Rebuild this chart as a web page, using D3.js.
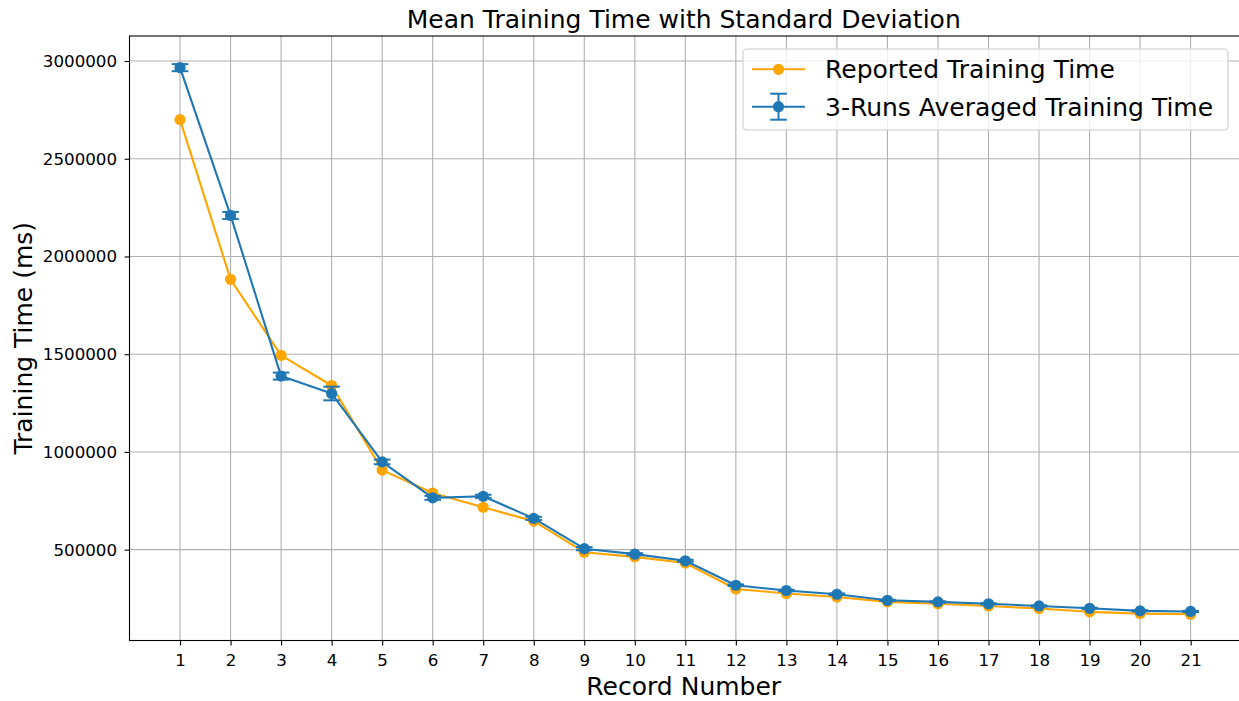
<!DOCTYPE html>
<html>
<head>
<meta charset="utf-8">
<script src="https://cdn.jsdelivr.net/npm/d3@7"></script>
<style>
  html, body { margin: 0; padding: 0; background: #fff; }
  svg { display: block; font-family: "DejaVu Sans", sans-serif; }
</style>
</head>
<body>
<svg id="chart" width="1239" height="701"></svg>
<script>
// ---- Data ----
const records = [1,2,3,4,5,6,7,8,9,10,11,12,13,14,15,16,17,18,19,20,21];
const reportedTime = [2700000, 1883000, 1494000, 1340000, 907000, 790000, 717000, 646000, 487000, 463000, 432000, 299000, 276000, 258000, 233000, 223000, 212000, 199000, 182000, 173000, 170000];
const averagedTime = [2966000, 2210000, 1388000, 1299000, 949000, 765000, 773000, 660000, 505000, 477000, 443000, 318000, 291000, 272000, 241000, 233000, 223000, 212000, 200000, 187000, 184000];
const stdDev = [18000, 18000, 18000, 35000, 12000, 10000, 8000, 8000, 8000, 5000, 5000, 4000, 4000, 4000, 3000, 3000, 3000, 3000, 3000, 3000, 3000];
const yTicks = [500000, 1000000, 1500000, 2000000, 2500000, 3000000];
const seriesNames = ["Reported Training Time", "3-Runs Averaged Training Time"];
const titleText = "Mean Training Time with Standard Deviation";
const xLabel = "Record Number";
const yLabel = "Training Time (ms)";

(function () {
// ---- Layout ----
const pL = 129.5, pT = 36, pB = 640.5;
const unit = 50.53;
const pR = pL + 22 * unit;
const orange = "#FFA500", blue = "#1f77b4";
const bigFont = "25px", tickFont = "16.7px";

const svg = d3.select("#chart");
const x = d3.scaleLinear().domain([0, 22]).range([pL, pR]);
const y = d3.scaleLinear().domain([35300, 3128000]).range([pB, pT]);

// grid
const grid = svg.append("g");
grid.selectAll(".vg").data(records).enter().append("line")
  .attr("x1", d => x(d)).attr("x2", d => x(d)).attr("y1", pT).attr("y2", pB)
  .attr("stroke", "#b0b0b0").attr("stroke-width", 1.1);
grid.selectAll(".hg").data(yTicks).enter().append("line")
  .attr("x1", pL).attr("x2", pR).attr("y1", d => y(d)).attr("y2", d => y(d))
  .attr("stroke", "#b0b0b0").attr("stroke-width", 1.1);

// axes
const xAxis = d3.axisBottom(x).tickValues(records).tickFormat(d3.format("d")).tickSize(4.9).tickPadding(8.5);
const yAxis = d3.axisLeft(y).tickValues(yTicks).tickFormat(d3.format("d")).tickSize(4.9).tickPadding(7.5);
const gx = svg.append("g").attr("transform", `translate(0,${pB})`).call(xAxis);
const gy = svg.append("g").attr("transform", `translate(${pL},0)`).call(yAxis);
[gx, gy].forEach(g => {
  g.attr("font-family", null).attr("font-size", null);
  g.select(".domain").remove();
  g.selectAll(".tick line").attr("stroke", "#000").attr("stroke-width", 1.1);
  g.selectAll(".tick text").attr("fill", "#000").style("font-size", tickFont).style("font-family", "DejaVu Sans");
});

// frame
svg.append("rect").attr("x", pL).attr("y", pT).attr("width", pR - pL).attr("height", pB - pT)
  .attr("fill", "none").attr("stroke", "#000").attr("stroke-width", 1.1);

// orange series
const line = d3.line().x((d, i) => x(records[i])).y(d => y(d));
svg.append("path").datum(reportedTime).attr("d", line)
  .attr("fill", "none").attr("stroke", orange).attr("stroke-width", 2.1).attr("stroke-linejoin", "round");
svg.append("g").selectAll("circle").data(reportedTime).enter().append("circle")
  .attr("cx", (d, i) => x(records[i])).attr("cy", d => y(d)).attr("r", 5.6).attr("fill", orange);

// blue error bars
const eb = svg.append("g").attr("stroke", blue).attr("stroke-width", 2);
const cap = 8.3;
averagedTime.forEach((v, i) => {
  const cx = x(records[i]);
  const y1 = y(v - stdDev[i]), y2 = y(v + stdDev[i]);
  eb.append("line").attr("x1", cx).attr("x2", cx).attr("y1", y1).attr("y2", y2);
  eb.append("line").attr("x1", cx - cap).attr("x2", cx + cap).attr("y1", y1).attr("y2", y1);
  eb.append("line").attr("x1", cx - cap).attr("x2", cx + cap).attr("y1", y2).attr("y2", y2);
});
svg.append("path").datum(averagedTime).attr("d", line)
  .attr("fill", "none").attr("stroke", blue).attr("stroke-width", 2.1).attr("stroke-linejoin", "round");
svg.append("g").selectAll("circle").data(averagedTime).enter().append("circle")
  .attr("cx", (d, i) => x(records[i])).attr("cy", d => y(d)).attr("r", 5.6).attr("fill", blue);

// title & labels
const cxMid = (pL + 1238) / 2;
svg.append("text").attr("x", cxMid).attr("y", 27.7).attr("text-anchor", "middle")
  .style("font-size", bigFont).text(titleText);
svg.append("text").attr("x", cxMid).attr("y", 695).attr("text-anchor", "middle")
  .style("font-size", bigFont).text(xLabel);
svg.append("text").attr("transform", `translate(31.5,${(pT + pB) / 2}) rotate(-90)`).attr("text-anchor", "middle")
  .style("font-size", bigFont).text(yLabel);

// legend
const lg = svg.append("g");
lg.append("rect").attr("x", 743).attr("y", 49).attr("width", 485).attr("height", 81).attr("rx", 4)
  .attr("fill", "rgba(255,255,255,0.8)").attr("stroke", "#cccccc").attr("stroke-width", 1.1);
const rows = [69.3, 106.7];
lg.append("line").attr("x1", 752).attr("x2", 805).attr("y1", rows[0]).attr("y2", rows[0]).attr("stroke", orange).attr("stroke-width", 2.1);
lg.append("circle").attr("cx", 778.5).attr("cy", rows[0]).attr("r", 5.6).attr("fill", orange);
lg.append("line").attr("x1", 752).attr("x2", 805).attr("y1", rows[1]).attr("y2", rows[1]).attr("stroke", blue).attr("stroke-width", 2.1);
lg.append("line").attr("x1", 778.5).attr("x2", 778.5).attr("y1", rows[1] - 13).attr("y2", rows[1] + 13).attr("stroke", blue).attr("stroke-width", 2);
lg.append("line").attr("x1", 778.5 - cap).attr("x2", 778.5 + cap).attr("y1", rows[1] - 13).attr("y2", rows[1] - 13).attr("stroke", blue).attr("stroke-width", 2);
lg.append("line").attr("x1", 778.5 - cap).attr("x2", 778.5 + cap).attr("y1", rows[1] + 13).attr("y2", rows[1] + 13).attr("stroke", blue).attr("stroke-width", 2);
lg.append("circle").attr("cx", 778.5).attr("cy", rows[1]).attr("r", 5.6).attr("fill", blue);
seriesNames.forEach((n, i) => {
  lg.append("text").attr("x", 825).attr("y", rows[i] + 9).style("font-size", bigFont).text(n);
});
})();
</script>
</body>
</html>
